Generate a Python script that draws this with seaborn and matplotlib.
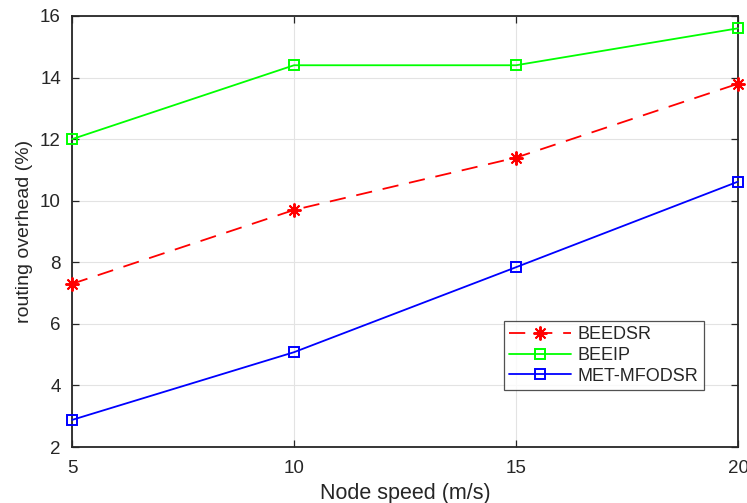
import matplotlib
matplotlib.use("Agg")
import matplotlib.pyplot as plt
import seaborn as sns
import pandas as pd

speeds = [5, 10, 15, 20]
beedsr = [7.3, 9.7, 11.4, 13.8]
beeip = [12.0, 14.4, 14.4, 15.6]
met_mfodsr = [2.88, 5.08, 7.84, 10.62]

sns.set_theme(style="whitegrid")
plt.rcParams['font.family'] = ['Liberation Sans', 'DejaVu Sans']

df = pd.DataFrame({
    "speed": speeds * 3,
    "overhead": beedsr + beeip + met_mfodsr,
    "protocol": ["BEEDSR"] * 4 + ["BEEIP"] * 4 + ["MET-MFODSR"] * 4,
})

fig = plt.figure(figsize=(7.47, 5.03), dpi=100)
ax = fig.add_axes([0.0964, 0.1113, 0.8916, 0.8569])

styles = {
    "BEEDSR": dict(color="#ff0000", linestyle=(0, (9, 6)), marker=(8, 2, 0), markersize=10,
                   markerfacecolor="#ff0000", markeredgecolor="#ff0000"),
    "BEEIP": dict(color="#00ff00", linestyle="-", marker="s", markersize=7.5,
                  markerfacecolor="none", markeredgecolor="#00ff00"),
    "MET-MFODSR": dict(color="#0000ff", linestyle="-", marker="s", markersize=7.5,
                       markerfacecolor="none", markeredgecolor="#0000ff"),
}

for name in ["BEEDSR", "BEEIP", "MET-MFODSR"]:
    sub = df[df["protocol"] == name]
    sns.lineplot(data=sub, x="speed", y="overhead", ax=ax, label=name,
                 linewidth=1.3, markeredgewidth=1.4, clip_on=False, zorder=5,
                 **styles[name])

ax.set_xlim(5, 20)
ax.set_ylim(2, 16)
ax.set_xticks([5, 10, 15, 20])
ax.set_yticks([2, 4, 6, 8, 10, 12, 14, 16])
ax.grid(True, color="#e3e3e3", linewidth=0.8)
for s in ax.spines.values():
    s.set_visible(True)
    s.set_color("#262626")
    s.set_linewidth(1.3)
    s.set_zorder(3)
ax.tick_params(direction="in", length=5, width=0.9, colors="#262626",
               labelsize=13.5, left=True, bottom=True, top=True, right=True,
               labeltop=False, labelright=False)
ax.tick_params(axis="x", pad=9)
ax.tick_params(axis="y", pad=8)
ax.set_xlabel("Node speed (m/s)", fontsize=15.5, color="#262626", labelpad=5)
ax.set_ylabel("routing overhead (%)", fontsize=14, color="#262626", labelpad=5)

leg = ax.legend(loc="lower right", bbox_to_anchor=(0.949, 0.132), borderaxespad=0,
                fontsize=13, frameon=True, fancybox=False, edgecolor="#262626",
                handlelength=3.4, handletextpad=0.4, borderpad=0.3, labelspacing=0.2)
leg.get_frame().set_linewidth(0.9)
leg.set_zorder(10)

fig.savefig("out.png", dpi=100)
